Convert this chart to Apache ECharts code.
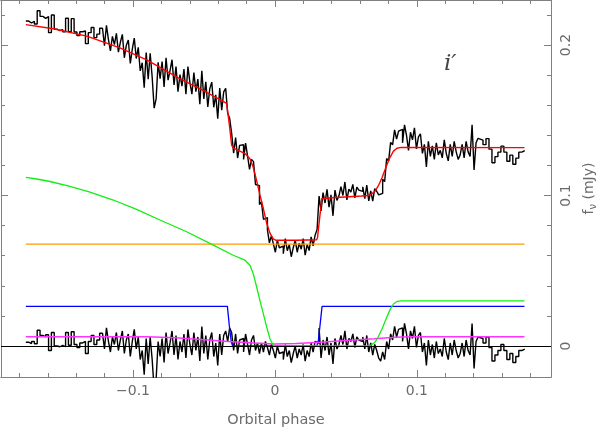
<!DOCTYPE html>
<html><head><meta charset="utf-8">
<script src="https://cdn.jsdelivr.net/npm/echarts@6/dist/echarts.min.js"></script>
<style>html,body{margin:0;padding:0;background:#fff}#c{width:597px;height:431px}</style>
</head><body><div id="c"></div>
<script>
// ---- axis ticks ----
const xTicksMajor = [-0.1, 0, 0.1];
const xTicksMinor = [-0.18,-0.16,-0.14,-0.12,-0.1,-0.08,-0.06,-0.04,-0.02,0,0.02,0.04,0.06,0.08,0.1,0.12,0.14,0.16,0.18];
const yTicksMajor = [0, 0.1, 0.2];
const yTicksMinor = [0,0.02,0.04,0.06,0.08,0.1,0.12,0.14,0.16,0.18,0.2,0.22];
const X_MIN = -0.193, X_MAX = 0.1945, Y_MIN = -0.0206, Y_MAX = 0.2299;

// ---- phase binning: [start phase, bin width, number of bins] ----
const binSegments = [[-0.1755, 0.002, 27], [-0.1215, 0.0014, 190], [0.1445, 0.0021, 15]];

// ---- observed flux (mJy), one value per bin ----
const fluxA = [0.2159,0.2146,0.2158,0.2140,0.2228,0.2190,0.2177,0.2189,0.2082,0.2199,0.2105,0.2096,0.2102,0.2087,0.2178,0.2089,0.2175,0.2086,0.2062,0.2088,0.2093,0.2009,0.2082,0.2116,0.2049,0.2072,0.2111];
const fluxB = [
0.2100,0.1995,0.2131,0.2036,0.1961,0.2057,0.2002,0.2077,0.1953,0.2018,
0.2071,0.1915,0.1999,0.2033,0.1877,0.1972,0.2046,0.1910,0.1984,0.1828,
0.1882,0.1716,0.1950,0.1772,0.1945,0.1787,0.1580,0.1642,0.1885,0.1777,
0.1890,0.1722,0.1915,0.1767,0.1830,0.1902,0.1735,0.1857,0.1690,0.1803,
0.1727,0.1840,0.1673,0.1857,0.1750,0.1673,0.1817,0.1690,0.1773,0.1607,
0.1829,0.1642,0.1755,0.1588,0.1710,0.1753,0.1586,0.1669,0.1511,0.1714,
0.1567,0.1689,0.1712,0.1546,0.1513,0.1413,0.1282,0.1385,0.1249,0.1333,
0.1337,0.1240,0.1348,0.1264,0.1174,0.1240,0.1225,0.1073,0.1066,0.0940,
0.0957,0.0842,0.0853,0.0771,0.0685,0.0732,0.0679,0.0623,0.0703,0.0653,
0.0663,0.0613,0.0713,0.0633,0.0673,0.0593,0.0653,0.0703,0.0623,0.0683,
0.0643,0.0713,0.0604,0.0674,0.0634,0.0725,0.0665,0.0736,0.0775,0.0996,
0.0898,0.1019,0.0950,0.1041,0.0923,0.1004,0.0865,0.1036,0.0967,0.0998,
0.1059,0.1000,0.1090,0.0971,0.1042,0.1023,0.1074,0.0984,0.1055,0.1036,
0.1027,0.1058,0.0979,0.1069,0.0964,0.1031,0.0962,0.1046,0.1028,0.1004,
0.1014,0.1108,0.1092,0.1246,0.1228,0.1353,0.1336,0.1436,0.1375,0.1428,
0.1440,0.1350,0.1470,0.1400,0.1300,0.1420,0.1370,0.1450,0.1310,0.1390,
0.1410,0.1280,0.1340,0.1190,0.1360,0.1260,0.1330,0.1240,0.1350,0.1270,
0.1300,0.1250,0.1370,0.1280,0.1230,0.1340,0.1260,0.1360,0.1290,0.1240,
0.1270,0.1340,0.1250,0.1360,0.1290,0.1260,0.1470,0.1170,0.1350,0.1380];
const fluxC = [0.1368,0.1338,0.1378,0.1308,0.1218,0.1258,0.1288,0.1328,0.1288,0.1228,0.1268,0.1208,0.1248,0.1288,0.1298];

// ---- residuals (mJy), one value per bin ----
const residA = [0.0025,0.0015,0.0030,0.0015,0.0105,0.0070,0.0060,0.0075,-0.0030,0.0090,0.0000,-0.0005,0.0005,-0.0005,0.0090,0.0005,0.0095,0.0010,-0.0010,0.0020,0.0030,-0.0050,0.0030,0.0070,0.0010,0.0040,0.0085];
const residB = [
0.008,-0.002,0.012,0.003,-0.004,0.006,0.001,0.009,-0.003,0.004,
0.010,-0.005,0.004,0.008,-0.007,0.003,0.011,-0.002,0.006,-0.009,
-0.003,-0.019,0.005,-0.012,0.006,-0.009,-0.029,-0.022,0.003,-0.007,
0.005,-0.011,0.009,-0.005,0.002,0.010,-0.006,0.007,-0.009,0.003,
-0.004,0.008,-0.008,0.011,0.001,-0.006,0.009,-0.003,0.006,-0.010,
0.013,-0.005,0.007,-0.009,0.004,0.009,-0.007,0.002,-0.013,0.008,
-0.006,0.007,0.010,0.003,0.012,0.009,-0.003,0.008,-0.005,0.004,
0.005,-0.004,0.008,0.001,-0.006,0.004,0.007,-0.003,0.002,-0.005,
0.002,-0.004,0.003,-0.001,-0.006,0.001,-0.003,-0.008,0.000,-0.005,
-0.004,-0.009,0.001,-0.007,-0.003,-0.011,-0.005,0.000,-0.008,-0.002,
-0.006,0.001,-0.010,-0.003,-0.007,0.002,-0.004,0.003,0.002,0.012,
-0.008,0.004,-0.003,0.006,-0.006,0.002,-0.012,0.005,-0.002,0.001,
0.007,0.001,0.010,-0.002,0.005,0.003,0.008,-0.001,0.006,0.004,
0.003,0.006,-0.002,0.007,-0.004,0.002,-0.006,0.001,-0.003,-0.008,
-0.010,-0.004,-0.009,0.003,-0.002,0.008,0.004,0.013,0.006,0.011,
0.012,0.003,0.015,0.008,-0.002,0.010,0.005,0.013,-0.001,0.007,
0.009,-0.004,0.002,-0.013,0.004,-0.006,0.001,-0.008,0.003,-0.005,
-0.002,-0.007,0.005,-0.004,-0.009,0.002,-0.006,0.004,-0.003,-0.008,
-0.005,0.002,-0.007,0.004,-0.003,-0.006,0.015,-0.015,0.003,0.006];
const residC = [0.005,0.002,0.006,-0.001,-0.010,-0.006,-0.003,0.001,-0.003,-0.009,-0.005,-0.011,-0.007,-0.003,-0.002];

// ---- model components [phase, mJy] ----
const modelTotal = [[-0.1755,0.2135],[-0.156,0.2108],[-0.1326,0.2059],[-0.1092,0.1981],[-0.090,0.1900],[-0.068,0.1782],[-0.0493,0.1692],[-0.0340,0.1612],[-0.0335,0.1600],[-0.0320,0.1460],[-0.0305,0.1335],[-0.0294,0.1316],[-0.0211,0.1279],[-0.0176,0.1244],[-0.0153,0.1188],[-0.0129,0.1099],[-0.0106,0.1005],[-0.0082,0.0915],[-0.0058,0.0815],[-0.0035,0.0750],[-0.0012,0.0712],[0.0005,0.0703],[0.0150,0.0703],[0.0294,0.0706],[0.0300,0.0720],[0.0315,0.0850],[0.0330,0.0978],[0.0400,0.0985],[0.0610,0.0997],[0.0660,0.1000],[0.0680,0.1010],[0.0705,0.1028],[0.0730,0.1067],[0.0755,0.1120],[0.0785,0.1195],[0.0810,0.1252],[0.0835,0.1295],[0.0860,0.1314],[0.0890,0.1320],[0.1758,0.1318]];
const modelConstant = [[-0.1755,0.0677],[0.1758,0.0677]];
const modelSpot = [[-0.1755,0.1121],[-0.1669,0.1108],[-0.1585,0.1093],[-0.1444,0.1061],[-0.1303,0.1023],[-0.1139,0.0970],[-0.0979,0.0910],[-0.081,0.0837],[-0.0622,0.0759],[-0.0434,0.0670],[-0.0294,0.0603],[-0.0211,0.0570],[-0.0176,0.0537],[-0.0153,0.0481],[-0.0129,0.0392],[-0.0106,0.0303],[-0.0082,0.0215],[-0.0058,0.0125],[-0.0035,0.0048],[-0.0012,0.0005],[0.0005,0.0],[0.066,0.0],[0.068,0.0008],[0.0705,0.0025],[0.073,0.0065],[0.0755,0.0115],[0.0785,0.0185],[0.081,0.0240],[0.0835,0.0279],[0.086,0.0296],[0.089,0.0300],[0.1758,0.0300]];
const modelWD = [[-0.1755,0.0263],[-0.0335,0.0263],[-0.0322,0.014],[-0.0308,0.003],[-0.0298,0],[0.0295,0],[0.0305,0.003],[0.0318,0.014],[0.0332,0.0263],[0.1758,0.0263]];
const modelDisc = [[-0.1755,0.0062],[-0.09,0.0062],[-0.07,0.0055],[-0.05,0.0042],[-0.033,0.0030],[-0.015,0.0020],[0,0.0014],[0.015,0.0016],[0.032,0.0025],[0.05,0.0036],[0.07,0.0048],[0.085,0.0058],[0.095,0.0062],[0.1758,0.0062]];

// ---- build histogram data ----
const edges = [];
binSegments.forEach(([s, w, n]) => { for (let i = 0; i < n; i++) edges.push(+(s + i * w).toFixed(5)); });
(function(){ const l = binSegments[binSegments.length-1]; edges.push(+(l[0] + l[1]*l[2]).toFixed(5)); })();
function histo(vals) {
  const d = vals.map((v, i) => [edges[i], v]);
  d.push([edges[vals.length], vals[vals.length - 1]]);
  return d;
}
const observed = histo(fluxA.concat(fluxB, fluxC));
const residuals = histo(residA.concat(residB, residC));

const AX = '#808080', TXT = '#6a6a6a', FONT = 'DejaVu Sans';
function fmt(v){ return v < 0 ? '\u2212' + Math.abs(v) : String(v); }
function xAx(pos, ticks, len, label) {
  return { type:'value', position:pos, min:X_MIN, max:X_MAX,
    axisLine:{show:true, onZero:false, lineStyle:{color:AX, width:1}},
    axisTick:{show:true, inside:true, length:len, customValues:ticks, lineStyle:{color:AX}},
    axisLabel: label ? {show:true, customValues:xTicksMajor, formatter:fmt, color:TXT, fontFamily:FONT, fontSize:14, margin:7} : {show:false},
    splitLine:{show:false},
    name: label ? 'Orbital phase' : '', nameLocation:'middle', nameGap:36,
    nameTextStyle:{color:TXT, fontFamily:FONT, fontSize:14.5}
  };
}
function yAx(pos, ticks, len, label) {
  const o = { type:'value', position:pos, min:Y_MIN, max:Y_MAX,
    axisLine:{show:true, onZero:false, lineStyle:{color:AX, width:1}},
    axisTick:{show:true, inside:true, length:len, customValues:ticks, lineStyle:{color:AX}},
    axisLabel: label ? {show:true, customValues:yTicksMajor, rotate:90, formatter:fmt, color:TXT, fontFamily:FONT, fontSize:14, margin:8} : {show:false},
    splitLine:{show:false}
  };
  if (label) {
    o.name = '{f|f}{s|\u03bd} {n|(mJy)}';
    o.nameLocation = 'middle'; o.nameRotate = 90; o.nameGap = 30;
    o.nameTextStyle = {color:TXT, fontFamily:FONT, fontSize:14,
      rich:{ f:{fontSize:14, color:TXT, fontFamily:FONT},
             s:{fontSize:10, color:TXT, fontFamily:FONT, padding:[7,0,0,0]},
             n:{fontSize:14, color:TXT, fontFamily:FONT} } };
  }
  return o;
}
function modelSeries(data, color, w) {
  return { type:'line', data, symbol:'none', smooth:false, silent:true, lineStyle:{color, width:w||1.3}, z:3 };
}

const chart = echarts.init(document.getElementById('c'), null, {renderer:'canvas'});
chart.setOption({
  animation:false,
  backgroundColor:'#fff',
  grid:{left:1, top:0, width:550, height:377, containLabel:false, outerBoundsMode:'none'},
  xAxis:[ xAx('bottom', xTicksMajor, 7, true), xAx('bottom', xTicksMinor, 4, false),
          xAx('top', xTicksMajor, 7, false), xAx('top', xTicksMinor, 4, false) ],
  yAxis:[ yAx('right', yTicksMajor, 7, true), yAx('right', yTicksMinor, 4, false),
          yAx('left', yTicksMajor, 7, false), yAx('left', yTicksMinor, 4, false) ],
  graphic:[{type:'text', left:444, top:53, style:{text:'i\u2032', fontSize:23, fontStyle:'italic', fontFamily:'DejaVu Serif', fill:'#444'}}],
  series:[
    { type:'line', data:observed, step:'end', symbol:'none', silent:true, lineStyle:{color:'#000', width:1.4}, z:2 },
    { type:'line', data:residuals, step:'end', symbol:'none', silent:true, lineStyle:{color:'#000', width:1.4}, z:2,
      markLine:{silent:true, symbol:['none','none'], label:{show:false}, lineStyle:{color:'#000', width:1, type:'solid'}, data:[{yAxis:0}]} },
    modelSeries(modelConstant, '#ff9900', 1.4),
    modelSeries(modelWD, '#0000ff'),
    modelSeries(modelDisc, '#ff33ff', 1.5),
    modelSeries(modelSpot, '#11ee11'),
    modelSeries(modelTotal, '#ff0000', 1.4)
  ]
});
</script></body></html>
